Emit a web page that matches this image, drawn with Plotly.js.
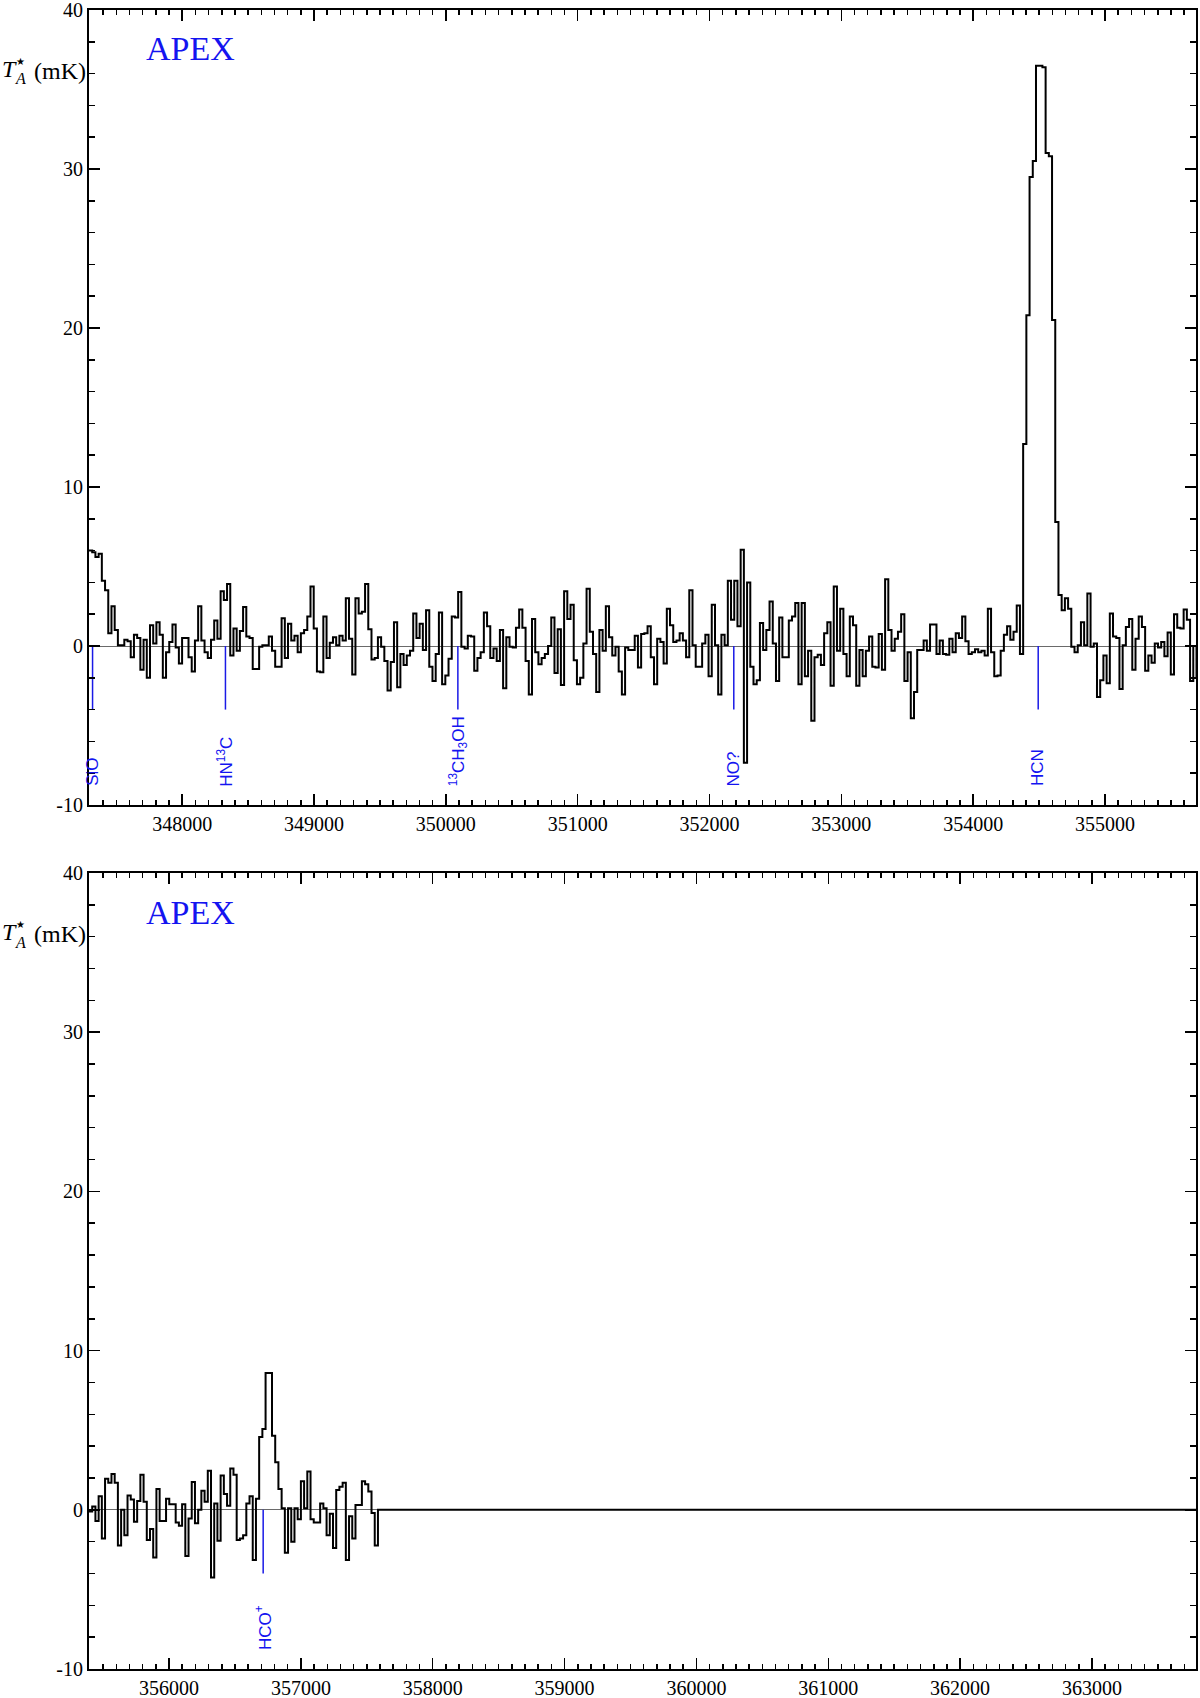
<!DOCTYPE html>
<html>
<head>
<meta charset="utf-8">
<script src="https://cdn.plot.ly/plotly-3.0.1.min.js"></script>
<style>html,body{margin:0;padding:0;background:#fff;}#chart{width:1200px;height:1698px;}</style>
</head>
<body>
<div id="chart"></div>
<script>
// ---------------- data ----------------
const topStartMHz = 347293;      // first channel edge of the upper spectrum
const bottomStartMHz = 355393;   // first channel edge of the lower spectrum
const channelMHz = 24.35;        // channel width
const bottomBlankEndMHz = 363800; // blanked (zero) part of the lower spectrum runs to here

// upper panel antenna temperature T_A* (mK), one value per channel
const topTA = [
  6.0, 5.9, 5.6, 5.8, 4.1, 3.5, 0.8, 2.5, 1.0, 0.05,
  0.05, 0.4, 0.3, -0.7, 0.7, 0.5, -1.5, 0.4, -2.0, 1.3,
  0.15, 1.5, 0.7, -2.0, -0.4, 0.25, 1.35, -0.1, -1.1, 0.5,
  0.5, -0.7, -1.6, 0.35, 2.5, 0.35, -0.4, -0.75, 0.4, 1.6,
  0.45, 3.45, 2.9, 3.9, -0.6, 1.1, -0.3, 0.95, 2.45, 0.6,
  0.5, -1.45, -1.45, -0.05, 0.05, 0.05, 0.6, -0.3, -1.3, -1.3,
  1.75, -0.75, 1.4, 0.35, 0.65, -0.4, 0.8, 1.0, 1.85, 3.75,
  1.1, -1.6, -1.65, 1.85, -0.75, 0.2, 0.55, 0.05, 0.65, 0.35,
  3.0, 0.45, -1.8, 3.0, 2.05, 2.15, 3.9, 1.05, -0.85, -0.75,
  0.55, -0.05, -0.95, -2.8, -1.0, 1.5, -2.6, -0.5, -1.2, -0.6,
  -0.3, 2.05, 0.5, 1.4, -0.25, 2.25, -1.3, -2.2, -0.5, 2.1,
  -2.4, -1.85, -0.8, 1.85, 1.8, 3.4,
  -0.05, -0.15, 0.65, 0.6, -1.55, -0.75, -0.4, 2.1, 1.25, -0.75,
  -0.15, -0.95, 1.0, -2.65, 0.55, -0.05, -0.1, 1.15, 2.3, 1.15,
  -0.95, -3.05, 1.7, -0.4, -1.15, -0.75, -0.5, 0.0, 1.8, -1.7,
  1.05, -2.45, 3.45, 1.7, 2.6, -0.9, -2.4, -2.0, 0.15, 3.6,
  0.9, -0.5, -2.9, 1.0, -0.3, 2.5, 0.55, -0.6, -0.05, -1.6,
  -3.05, -0.1, -0.25, -0.25, 0.65, -1.35, 0.75, 0.8, 1.25, -0.7,
  -2.4, 0.45, 0.25, -1.1, 2.35, 1.3, 0.25, 0.35, 0.8, 0.35,
  -0.7, 3.5, 0.05, -1.3, -1.3, 0.15, 0.7, -1.9, 2.6, 0.05,
  -3.05, 0.7, 0.05, 4.1, 1.65, 4.1, 1.25, 6.05, -7.35, 4.0,
  -1.3, -2.4, -2.15, 1.45, -0.25, 1.0, 2.8, 0.15, -2.2, 1.8,
  -0.7, -0.7, 1.6, 1.85, 2.7, -2.4, 2.7, -1.9, -0.3, -4.7,
  -0.7, -0.55, -1.2, 0.8, 1.5, -2.5,
  3.75, -0.3, 2.35, -0.5, -1.9, 1.85, 1.3, -2.5, -0.25, -1.9,
  -0.3, 0.6, -1.3, -1.35, 0.75, -1.5, 4.2, 1.0, -0.3, 0.45,
  0.9, 2.0, -2.2, -0.4, -4.55, -2.9, -0.25, -0.25, 0.35, -0.3,
  1.35, 1.35, -0.5, 0.35, -0.5, -0.55, 0.45, -0.4, 0.8, 0.5,
  1.85, 0.3, -0.5, -0.4, -0.2, -0.4, -0.3, -0.6, 2.35, -0.4,
  -1.9, -1.85, -0.3, 0.7, 1.25, 0.4, 0.9, 2.55, -0.5,
  12.7, 20.8, 29.5, 30.5, 36.5, 36.5, 36.4, 31.0, 30.8, 20.5, 7.8, 3.2,
  2.25, 3.0, 2.35, -0.05, -0.4, 0.05, 1.5, 0.05, 3.3, -0.05,
  0.15, -3.2, -2.15, -0.6, -2.35, 2.05, 0.6, 0.5, -2.7, 0.05,
  1.2, 1.7, -1.5, 0.45, 1.85, 1.2, -1.55, -0.6, -1.05, 0.15,
  -0.1, 0.25, -0.65, 0.85, -1.8, 2.0, 1.15, 1.1, 2.3, 1.65,
  -2.2, 0.0, -1.9
];

// lower panel antenna temperature T_A* (mK)
const bottomTA = [
  -0.1, 0.2, -0.7, 0.85, -1.8, 1.95, 1.7, 2.25, 1.7,
  -2.25, 0.0, -1.6, 0.9, 0.65, -0.75, 0.55, 2.2, 0.5, -1.9,
  -1.2, -3.0, 1.3, -0.7, -0.7, 0.7, 0.35, 0.35, -0.8, -1.0,
  0.35, -2.9, -0.55, 1.75, -0.85, 0.0, 1.2, 0.5, 2.45, -4.25,
  0.4, -1.95, 2.15, 1.0, 0.25, 2.6, 2.2, -1.9, -1.8, -1.6,
  0.4, 0.85, -3.15, 0.7, 4.57, 5.07, 8.6, 8.6, 4.65, 2.98,
  1.3, 0.1, -2.7, 0.1, -2.0, 0.1, -0.6, 1.8, 0.1, 2.4,
  -0.6, -0.8, -0.8, 0.4, 0.1, -1.6, -0.25, -2.4, 1.25, 1.45,
  1.7, -3.15, -0.4, -1.8, 0.3, 0.3, 1.8, 1.6, 1.15, -0.2,
  -2.25, 0.0
];

// line identifications
const topLineNames = ['SiO', 'HN<sup>13</sup>C', '<sup>13</sup>CH<sub>3</sub>OH', 'NO?', 'HCN'];
const topLineMHz = [347320, 348328, 350091, 352184, 354493];
const bottomLineNames = ['HCO<sup>+</sup>'];
const bottomLineMHz = [356714];
const lineMarkFrom = 0, lineMarkTo = -4, lineLabelAt = -8.95;

// axes
const topRangeMHz = [347293, 355690];
const bottomRangeMHz = [355393, 363789];
const yRange = [-10, 40];
const yTickVals = [-10, 0, 10, 20, 30, 40];
const yTickText = ['-10', '0', '10', '20', '30', '40'];
const xMajorStep = 1000, xMinorStep = 100, yMinorStep = 2;
const telescope = 'APEX';

// ---------------- figure ----------------
const W = 1200, H = 1698;
const M = {l: 89, r: 4, t: 10, b: 29};
const plotH = H - M.t - M.b;   // 1659
const topDomain = [864 / plotH, 1];
const botDomain = [0, 796 / plotH];

function stepTrace(start, vals, xa, ya, blankEnd) {
  const x = [], y = [];
  vals.forEach((v, i) => { x.push(start + i * channelMHz); y.push(v); });
  const end = start + vals.length * channelMHz;
  if (blankEnd !== undefined) { x.push(end); y.push(0); x.push(blankEnd); y.push(0); }
  else { x.push(end); y.push(vals[vals.length - 1]); }
  return {x, y, xaxis: xa, yaxis: ya, type: 'scatter', mode: 'lines',
          line: {shape: 'hv', color: 'black', width: 2}, hoverinfo: 'skip', showlegend: false};
}
function markTrace(freqs, xa, ya) {
  const x = [], y = [];
  freqs.forEach(f => { x.push(f, f, null); y.push(lineMarkFrom, lineMarkTo, null); });
  return {x, y, xaxis: xa, yaxis: ya, type: 'scatter', mode: 'lines',
          line: {color: '#1a1ae6', width: 1.5}, hoverinfo: 'skip', showlegend: false};
}

const serif = 'Liberation Serif, Times New Roman, serif';
const sans = 'Liberation Sans, Arial, Helvetica, sans-serif';
const blue = '#1414f0';

const axisBase = {
  showline: true, linecolor: 'black', linewidth: 2, mirror: 'ticks',
  ticks: 'inside', tickcolor: 'black', tickwidth: 1.5, showgrid: false, zeroline: false,
  ticklabeloverflow: 'allow',
  tickfont: {family: serif, size: 20, color: 'black'}
};
function xAxis(range, anchor) {
  return Object.assign({}, axisBase, {
    anchor, range, tickmode: 'linear', tick0: 0, dtick: xMajorStep, tickformat: 'd', ticklen: 11,
    minor: {tickmode: 'linear', tick0: 0, dtick: xMinorStep, ticklen: 5, tickwidth: 1.5, tickcolor: 'black', ticks: 'inside', showgrid: false}
  });
}
function yAxis(domain, anchor) {
  return Object.assign({}, axisBase, {
    anchor, domain, range: yRange, tickmode: 'array', tickvals: yTickVals, ticktext: yTickText, ticklen: 11,
    zeroline: true, zerolinecolor: '#6a6a6a', zerolinewidth: 1,
    minor: {tickmode: 'linear', tick0: 0, dtick: yMinorStep, ticklen: 6, tickwidth: 1.5, tickcolor: 'black', ticks: 'inside', showgrid: false}
  });
}

const px2x = p => (p - M.l) / (W - M.l - M.r);
const py2y = p => (H - M.b - p) / plotH;

const annotations = [];
function panelDecor(xd, yd, xr, yr, names, freqs, dy) {
  annotations.push({xref: xd, yref: yd, x: 0.0497, y: 0.951, xanchor: 'left', yanchor: 'middle',
    text: telescope, showarrow: false, font: {family: serif, size: 34, color: blue}});
  // y-axis title  T_A^* (mK)
  annotations.push({xref: 'paper', yref: 'paper', x: px2x(9), y: py2y(69 + dy), xanchor: 'center', yanchor: 'middle',
    text: '<i>T</i>', showarrow: false, font: {family: serif, size: 24, color: 'black'}});
  annotations.push({xref: 'paper', yref: 'paper', x: px2x(20), y: py2y(61 + dy), xanchor: 'center', yanchor: 'middle',
    text: '★', showarrow: false, font: {family: 'DejaVu Sans, sans-serif', size: 10, color: 'black'}});
  annotations.push({xref: 'paper', yref: 'paper', x: px2x(20), y: py2y(79 + dy), xanchor: 'center', yanchor: 'middle',
    text: '<i>A</i>', showarrow: false, font: {family: serif, size: 16, color: 'black'}});
  annotations.push({xref: 'paper', yref: 'paper', x: px2x(88), y: py2y(71 + dy), xanchor: 'right', yanchor: 'middle',
    text: '(mK)', showarrow: false, font: {family: serif, size: 24, color: 'black'}});
  names.forEach((n, i) => annotations.push({xref: xr, yref: yr, x: freqs[i], y: lineLabelAt,
    xanchor: 'center', yanchor: 'bottom', textangle: -90, text: n, showarrow: false,
    font: {family: sans, size: 17, color: blue}}));
}
panelDecor('x domain', 'y domain', 'x', 'y', topLineNames, topLineMHz, 0);
panelDecor('x2 domain', 'y2 domain', 'x2', 'y2', bottomLineNames, bottomLineMHz, 863);

const data = [
  stepTrace(topStartMHz, topTA, 'x', 'y'),
  markTrace(topLineMHz, 'x', 'y'),
  stepTrace(bottomStartMHz, bottomTA, 'x2', 'y2', bottomBlankEndMHz),
  markTrace(bottomLineMHz, 'x2', 'y2')
];

const layout = {
  width: W, height: H, margin: M, paper_bgcolor: 'white', plot_bgcolor: 'white', showlegend: false,
  xaxis: xAxis(topRangeMHz, 'y'),
  yaxis: yAxis(topDomain, 'x'),
  xaxis2: xAxis(bottomRangeMHz, 'y2'),
  yaxis2: yAxis(botDomain, 'x2'),
  annotations
};
Plotly.newPlot('chart', data, layout, {displayModeBar: false, staticPlot: true});
</script>
</body>
</html>
